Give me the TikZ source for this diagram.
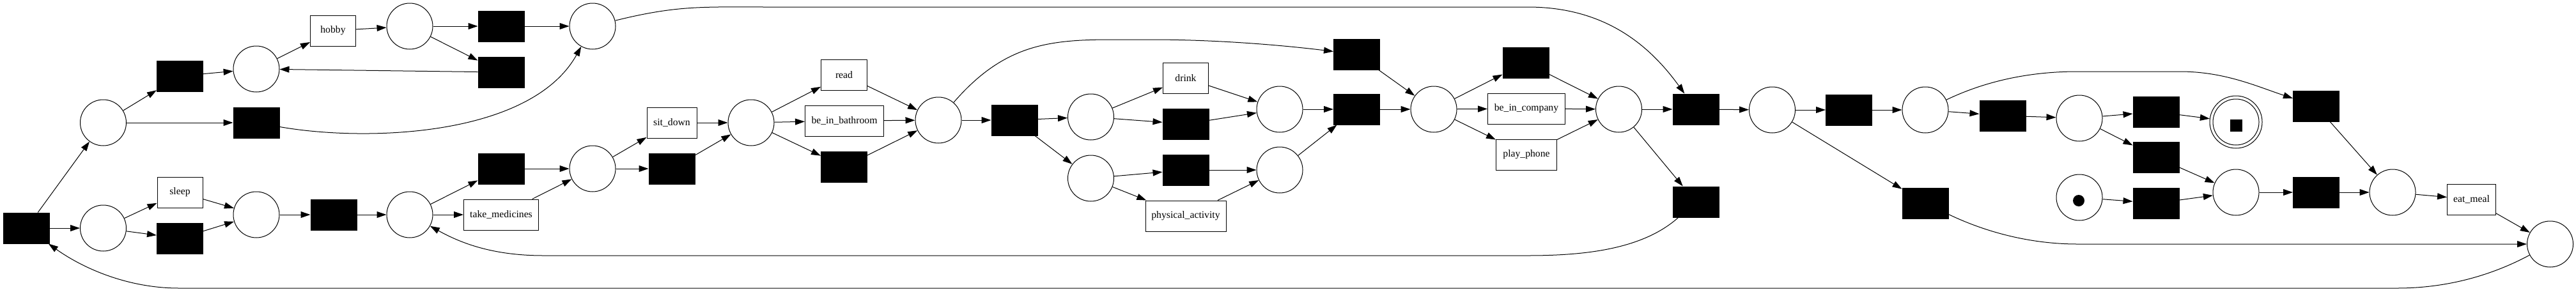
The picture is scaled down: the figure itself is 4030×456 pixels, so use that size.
\documentclass[tikz,border=0pt]{standalone}
\usepackage{fontspec}
\setmainfont{Liberation Serif}
\usetikzlibrary{arrows.meta}
\begin{document}
\begin{tikzpicture}[x=1pt,y=-1pt,
 place/.style={circle,draw,line width=1pt,minimum size=72pt,inner sep=0pt},
 blk/.style={rectangle,draw,fill=black,line width=1pt,minimum width=72pt,minimum height=48pt,inner sep=0pt},
 lbl/.style={rectangle,draw,line width=1pt,minimum height=48pt,inner sep=0pt,font=\fontsize{15.7}{18}\selectfont},
 arc/.style={-{Triangle[length=15pt,width=10pt]},line width=1pt}]
\useasboundingbox (0,0) rectangle (4030,456);
% nodes
\node[blk] (T0) at (41.5,357) {};
\node[place] (P1) at (161.5,192) {};
\node[place] (P2) at (161.5,357) {};
\node[blk] (T1) at (281.5,119) {};
\node[blk] (Tsk) at (401,192) {};
\node[place] (P3) at (401,108) {};
\node[lbl,minimum width=71pt] (hobby) at (521,48) {hobby};
\node[place] (P4) at (641,41) {};
\node[blk] (T2) at (784,41) {};
\node[blk] (T3) at (784,113) {};
\node[place] (P5) at (927,41) {};
\node[lbl,minimum width=71pt] (sleep) at (281.5,301) {sleep};
\node[blk] (T4) at (281.5,373) {};
\node[place] (P6) at (401,336) {};
\node[blk] (T5) at (522,336) {};
\node[place] (P7) at (641,336) {};
\node[blk] (T6) at (784,264) {};
\node[lbl,minimum width=117pt] (takemed) at (784,336) {take\_medicines};
\node[place] (P8) at (927,264) {};
\node[lbl,minimum width=78pt] (sitdown) at (1051,192) {sit\_down};
\node[blk] (T7) at (1051,264) {};
\node[place] (P9) at (1175,192) {};
\node[lbl,minimum width=72pt] (read) at (1320.5,117) {read};
\node[lbl,minimum width=123pt] (bath) at (1321,189) {be\_in\_bathroom};
\node[blk] (T8) at (1320.5,261) {};
\node[place] (P10) at (1468,188) {};
\node[blk] (T9) at (1587,188) {};
\node[place] (P11) at (1706.5,183) {};
\node[place] (P12) at (1706.5,279) {};
\node[lbl,minimum width=71pt] (drink) at (1855,122) {drink};
\node[blk] (T10) at (1855,194) {};
\node[blk] (T11) at (1855,266) {};
\node[lbl,minimum width=126pt] (phys) at (1855,338) {physical\_activity};
\node[place] (P13) at (2002,171) {};
\node[place] (P14) at (2002,266) {};
\node[blk] (T12) at (2122.5,85) {};
\node[blk] (T13) at (2122.5,171) {};
\node[place] (P15) at (2243,171) {};
\node[blk] (T14) at (2387,98) {};
\node[lbl,minimum width=121pt] (company) at (2388,170) {be\_in\_company};
\node[lbl,minimum width=95pt] (phone) at (2388,242) {play\_phone};
\node[place] (P16) at (2532.5,171) {};
\node[blk] (T15) at (2653,171) {};
\node[blk] (T16) at (2653,316) {};
\node[place] (P17) at (2772.5,172) {};
\node[blk] (T17) at (2892.5,172) {};
\node[blk] (T18) at (3012,318) {};
\node[place] (P18) at (3012,172) {};
\node[blk] (T19) at (3133,181) {};
\node[place] (P19) at (3253,185) {};
\node[blk] (T20) at (3373,175) {};
\node[circle,draw,line width=1pt,minimum size=82pt,inner sep=0pt] (Pend) at (3498,191) {};
\node[place] (Pendin) at (3498,191) {};
\node[rectangle,fill=black,minimum size=19pt,inner sep=0pt] (endmark) at (3498,196) {};
\node[blk] (T21) at (3373,246) {};
\node[blk] (T22) at (3623.5,166) {};
\node[place] (Ptok) at (3253,309) {};
\node[circle,fill=black,minimum size=18pt,inner sep=0pt] (token) at (3252,314) {};
\node[blk] (T23) at (3373,318) {};
\node[place] (P20) at (3498,301) {};
\node[blk] (T24) at (3623.5,301) {};
\node[place] (P21) at (3743,301) {};
\node[lbl,minimum width=76pt] (eat) at (3866.5,312) {eat\_meal};
\node[place] (P22) at (3989.5,382) {};
% straight arcs
\draw[arc] (T0) -- (P2);
\draw[arc] (T0) -- (P1);
\draw[arc] (P1) -- (T1);
\draw[arc] (P1) -- (Tsk);
\draw[arc] (T1) -- (P3);
\draw[arc] (P3) -- (hobby);
\draw[arc] (hobby) -- (P4);
\draw[arc] (P4) -- (T2);
\draw[arc] (P4) -- (T3);
\draw[arc] (T2) -- (P5);
\draw[arc] (T3) -- (P3);
\draw[arc] (P2) -- (sleep);
\draw[arc] (P2) -- (T4);
\draw[arc] (sleep) -- (P6);
\draw[arc] (T4) -- (P6);
\draw[arc] (P6) -- (T5);
\draw[arc] (T5) -- (P7);
\draw[arc] (P7) -- (T6);
\draw[arc] (P7) -- (takemed);
\draw[arc] (T6) -- (P8);
\draw[arc] (takemed) -- (P8);
\draw[arc] (P8) -- (sitdown);
\draw[arc] (P8) -- (T7);
\draw[arc] (sitdown) -- (P9);
\draw[arc] (T7) -- (P9);
\draw[arc] (P9) -- (read);
\draw[arc] (P9) -- (bath);
\draw[arc] (P9) -- (T8);
\draw[arc] (read) -- (P10);
\draw[arc] (bath) -- (P10);
\draw[arc] (T8) -- (P10);
\draw[arc] (P10) -- (T9);
\draw[arc] (T9) -- (P11);
\draw[arc] (T9) -- (P12);
\draw[arc] (P11) -- (drink);
\draw[arc] (P11) -- (T10);
\draw[arc] (drink) -- (P13);
\draw[arc] (T10) -- (P13);
\draw[arc] (P12) -- (T11);
\draw[arc] (P12) -- (phys);
\draw[arc] (T11) -- (P14);
\draw[arc] (phys) -- (P14);
\draw[arc] (P13) -- (T13);
\draw[arc] (P14) -- (T13);
\draw[arc] (T12) -- (P15);
\draw[arc] (T13) -- (P15);
\draw[arc] (P15) -- (T14);
\draw[arc] (P15) -- (company);
\draw[arc] (P15) -- (phone);
\draw[arc] (T14) -- (P16);
\draw[arc] (company) -- (P16);
\draw[arc] (phone) -- (P16);
\draw[arc] (P16) -- (T15);
\draw[arc] (P16) -- (T16);
\draw[arc] (T15) -- (P17);
\draw[arc] (P17) -- (T17);
\draw[arc] (P17) -- (T18);
\draw[arc] (T17) -- (P18);
\draw[arc] (P18) -- (T19);
\draw[arc] (T19) -- (P19);
\draw[arc] (P19) -- (T20);
\draw[arc] (P19) -- (T21);
\draw[arc] (T20) -- (Pend);
\draw[arc] (T21) -- (P20);
\draw[arc] (Ptok) -- (T23);
\draw[arc] (T23) -- (P20);
\draw[arc] (P20) -- (T24);
\draw[arc] (T24) -- (P21);
\draw[arc] (T22) -- (P21);
\draw[arc] (P21) -- (eat);
\draw[arc] (eat) -- (P22);
% curved arcs
\draw[arc] (Tsk) .. controls (570,222) and (830,215) .. (P5);
\draw[arc] (P5) .. controls (1060,8) and (1100,11) .. (1200,11) -- (2390,11) .. controls (2510,11) and (2580,70) .. (T15);
\draw[arc] (P10) .. controls (1570,70) and (1640,62) .. (1740,62) -- (1800,62) .. controls (1900,62) and (2000,70) .. (T12);
\draw[arc] (T16) .. controls (2570,390) and (2480,400) .. (2390,400) -- (850,400) .. controls (770,400) and (720,380) .. (P7);
\draw[arc] (P18) .. controls (3110,125) and (3180,112) .. (3250,112) -- (3410,112) .. controls (3480,112) and (3530,135) .. (T22);
\draw[arc] (T18) .. controls (3110,365) and (3180,382) .. (3250,382) -- (P22);
\draw[arc] (P22) .. controls (3900,430) and (3830,451) .. (3750,451) -- (280,451) .. controls (200,451) and (130,420) .. (T0);
\end{tikzpicture}
\end{document}
